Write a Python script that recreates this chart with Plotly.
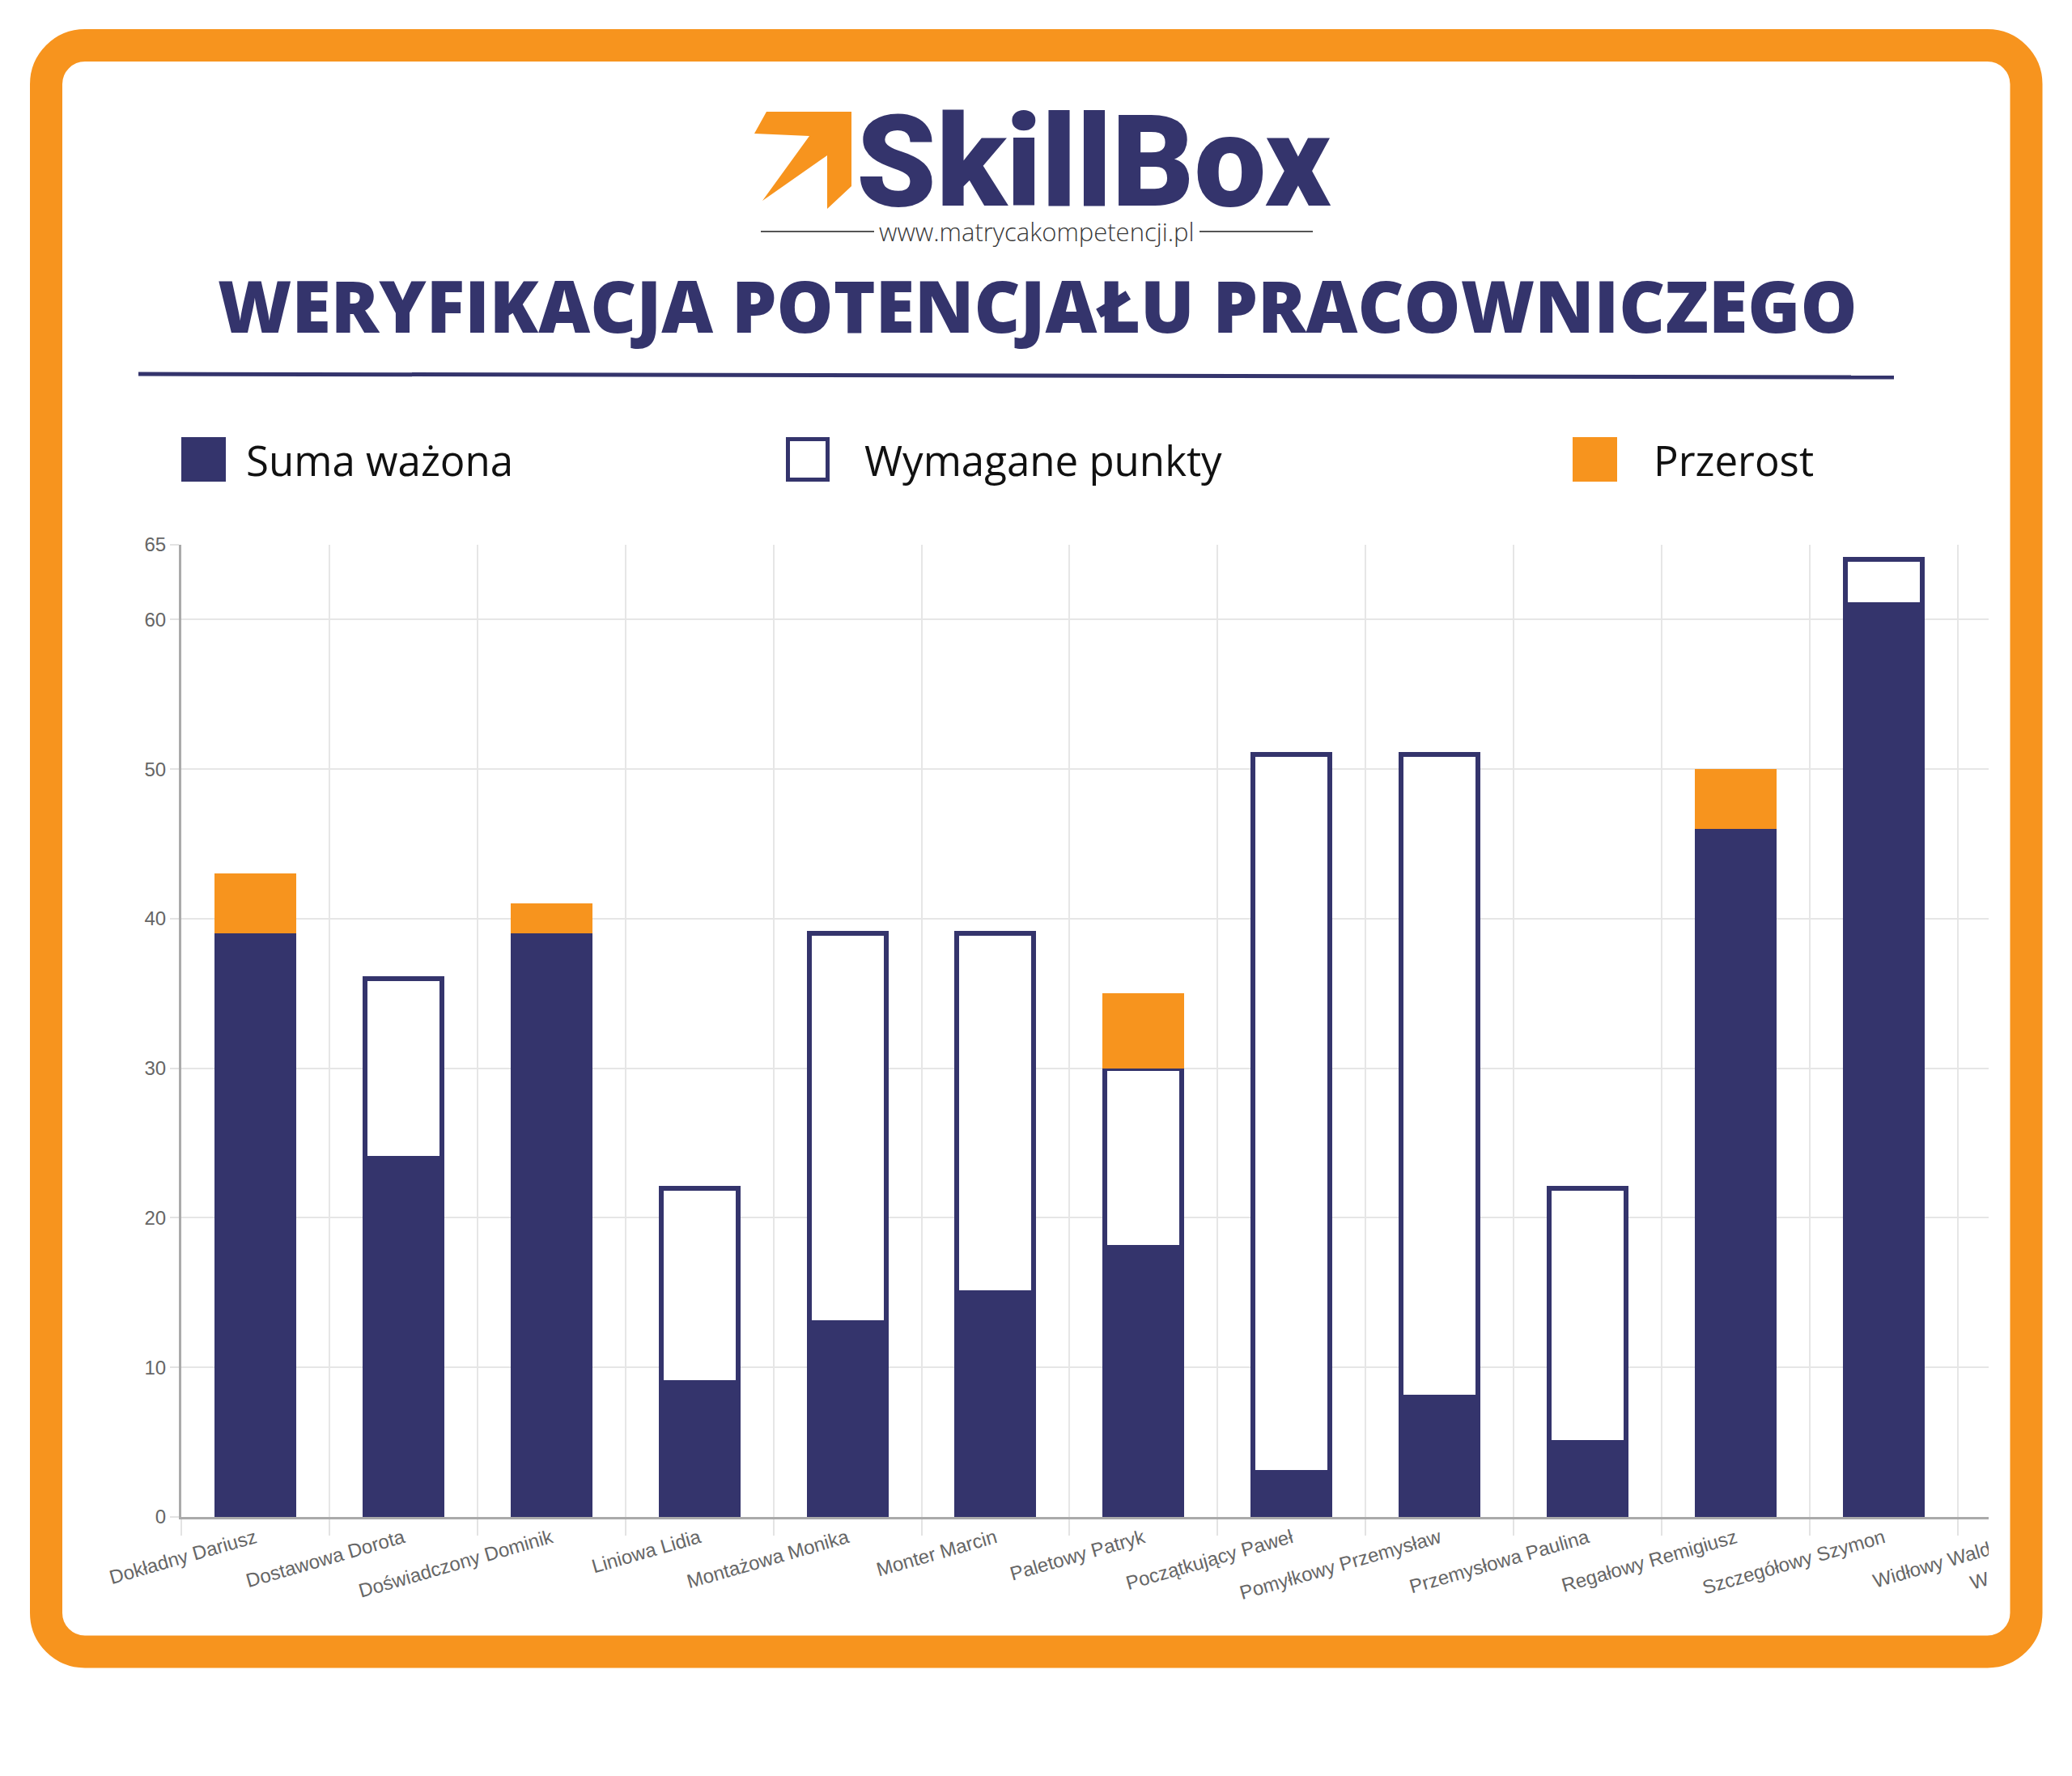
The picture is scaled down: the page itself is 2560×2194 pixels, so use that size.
import plotly.graph_objects as go

# ---------------- data ----------------
categories = [
    "Dokładny Dariusz", "Dostawowa Dorota", "Doświadczony Dominik", "Liniowa Lidia",
    "Montażowa Monika", "Monter Marcin", "Paletowy Patryk", "Początkujący Paweł",
    "Pomyłkowy Przemysław", "Przemysłowa Paulina", "Regałowy Remigiusz",
    "Szczegółowy Szymon", "Widłowy Waldemar",
]
suma_wazona = [39, 24, 39, 9, 13, 15, 18, 3, 8, 5, 46, 61, None]
wymagane_punkty = [None, 12, None, 13, 26, 24, 12, 48, 43, 17, None, 3, None]
przerost = [4, None, 2, None, None, None, 5, None, None, None, 4, None, None]
y_ticks = [0, 10, 20, 30, 40, 50, 60, 65]
legend_labels = ["Suma ważona", "Wymagane punkty", "Przerost"]
title_text = "WERYFIKACJA POTENCJAŁU PRACOWNICZEGO"
logo_text = "SkillBox"
url_text = "www.matrycakompetencji.pl"
hidden_label_start = "W"

# ---------------- style / geometry (page pixels) ----------------
NAVY = "#34346C"
ORANGE = "#F7941E"
OFF = 8                      # default body margin of the html page
W, H = 2544, 2178            # figure size
L, R, T, B = 224, 2552, 673, 1874   # plot area in page pixels
CAT_PX = 182.9


def px(x):
    return (x - L) / (R - L)


def py(y):
    return (B - y) / (B - T)


def rrect_path(x0, y0, x1, y1, r):
    k = 0.5523 * r
    pts = [
        f"M{px(x0 + r)},{py(y0)}",
        f"L{px(x1 - r)},{py(y0)}",
        f"C{px(x1 - r + k)},{py(y0)} {px(x1)},{py(y0 + r - k)} {px(x1)},{py(y0 + r)}",
        f"L{px(x1)},{py(y1 - r)}",
        f"C{px(x1)},{py(y1 - r + k)} {px(x1 - r + k)},{py(y1)} {px(x1 - r)},{py(y1)}",
        f"L{px(x0 + r)},{py(y1)}",
        f"C{px(x0 + r - k)},{py(y1)} {px(x0)},{py(y1 - r + k)} {px(x0)},{py(y1 - r)}",
        f"L{px(x0)},{py(y0 + r)}",
        f"C{px(x0)},{py(y0 + r - k)} {px(x0 + r - k)},{py(y0)} {px(x0 + r)},{py(y0)}",
        "Z",
    ]
    return " ".join(pts)


def poly_path(points):
    s = "M" + " L".join(f"{px(x)},{py(y)}" for x, y in points)
    return s + " Z"


fig = go.Figure()
bar_w = 101 / CAT_PX
fig.add_trace(go.Bar(x=categories, y=suma_wazona, name=legend_labels[0],
                     marker=dict(color=NAVY, line=dict(width=0)), width=bar_w))
fig.add_trace(go.Bar(x=categories, y=wymagane_punkty, name=legend_labels[1],
                     marker=dict(color="white", line=dict(color=NAVY, width=6)),
                     width=95 / CAT_PX))
fig.add_trace(go.Bar(x=categories, y=przerost, name=legend_labels[2],
                     marker=dict(color=ORANGE, line=dict(width=0)), width=bar_w))

x_end = -0.5 + (R - L) / CAT_PX

fig.update_layout(
    template="none",
    width=W, height=H,
    margin=dict(l=L - OFF, r=OFF + W - R, t=T - OFF, b=OFF + H - B, pad=0),
    paper_bgcolor="white", plot_bgcolor="white",
    barmode="stack",
    showlegend=False,
    xaxis=dict(
        type="category", categoryorder="array", categoryarray=categories,
        range=[-0.5, x_end], automargin=False,
        tickson="boundaries", ticks="outside", ticklen=20, tickwidth=2, tickcolor="#e3e3e3",
        showgrid=True, gridcolor="#e6e6e6", gridwidth=2,
        showline=True, linecolor="#aaaaaa", linewidth=3,
        tickangle=-16,
        tickfont=dict(family="Liberation Sans, Arial", size=24, color="#666666"),
        zeroline=False,
    ),
    yaxis=dict(
        range=[0, 65], automargin=False,
        tickmode="array", tickvals=y_ticks,
        ticks="outside", ticklen=11, tickwidth=2, tickcolor="#e3e3e3",
        showgrid=True, gridcolor="#e6e6e6", gridwidth=2,
        showline=True, linecolor="#aaaaaa", linewidth=3,
        zeroline=False,
        tickfont=dict(family="Liberation Sans, Arial", size=24, color="#666666"),
    ),
)

shapes = []
# cover the part of the chart that is cut off on the right
shapes.append(dict(type="rect", xref="paper", yref="paper", layer="above",
                   x0=px(2457), x1=px(2490), y0=py(640), y1=py(2030),
                   fillcolor="white", line=dict(width=0)))
shapes.append(dict(type="rect", xref="paper", yref="paper", layer="above",
                   x0=px(2520), x1=px(2600), y0=py(0), y1=py(2200),
                   fillcolor="white", line=dict(width=0)))
# orange frame
shapes.append(dict(type="path", xref="paper", yref="paper", layer="above",
                   path=rrect_path(57, 56, 2503.5, 2040.5, 48),
                   line=dict(color=ORANGE, width=40), fillcolor="rgba(0,0,0,0)"))
# logo arrow
arrow = [(947, 138), (1052, 138), (1052, 230), (1022, 258), (1022, 192),
         (942, 248), (1000, 168), (932, 165)]
shapes.append(dict(type="path", xref="paper", yref="paper", layer="above",
                   path=poly_path(arrow), fillcolor=ORANGE, line=dict(width=0)))
# lines around url
for x0, x1 in [(940, 1080), (1482, 1622)]:
    shapes.append(dict(type="line", xref="paper", yref="paper", layer="above",
                       x0=px(x0), x1=px(x1), y0=py(286), y1=py(286),
                       line=dict(color="#555555", width=2)))
# title underline
shapes.append(dict(type="line", xref="paper", yref="paper", layer="above",
                   x0=px(171), x1=px(2340), y0=py(462), y1=py(466),
                   line=dict(color=NAVY, width=5)))
# legend markers
shapes.append(dict(type="rect", xref="paper", yref="paper", layer="above",
                   x0=px(224), x1=px(279), y0=py(540), y1=py(595),
                   fillcolor=NAVY, line=dict(width=0)))
shapes.append(dict(type="rect", xref="paper", yref="paper", layer="above",
                   x0=px(973.5), x1=px(1022.5), y0=py(542.5), y1=py(592.5),
                   fillcolor="white", line=dict(color=NAVY, width=5)))
shapes.append(dict(type="rect", xref="paper", yref="paper", layer="above",
                   x0=px(1943), x1=px(1998), y0=py(540), y1=py(595),
                   fillcolor=ORANGE, line=dict(width=0)))
fig.update_layout(shapes=shapes)

LOGO_SIZE = 158
ann = []
ann.append(dict(text=logo_text, x=px(1056), y=py(139 - 0.217 * LOGO_SIZE),
                xref="paper", yref="paper",
                xanchor="left", yanchor="top", valign="top",
                height=int(0.95 * LOGO_SIZE), showarrow=False,
                font=dict(family="Roboto", size=LOGO_SIZE, weight=900, color=NAVY)))
ann.append(dict(text=url_text, x=px(1281), y=py(286), xref="paper", yref="paper",
                xanchor="center", yanchor="middle", showarrow=False,
                font=dict(family="Open Sans", size=31, weight=300, color="#3a3a3a")))
ann.append(dict(text=title_text, x=px(1282), y=py(377), xref="paper", yref="paper",
                xanchor="center", yanchor="middle", showarrow=False,
                font=dict(family="Open Sans", size=88, weight=800, color=NAVY)))
for label, xpos in zip(legend_labels, [302, 1066, 2041]):
    ann.append(dict(text=label, x=px(xpos), y=py(568), xref="paper", yref="paper",
                    xanchor="left", yanchor="middle", showarrow=False,
                    font=dict(family="Open Sans", size=51, color="#111111")))
ann.append(dict(text=hidden_label_start, x=px(2445), y=py(1952), xref="paper", yref="paper",
                xanchor="center", yanchor="middle", showarrow=False, textangle=-16,
                font=dict(family="Liberation Sans, Arial", size=24, color="#666666")))
fig.update_layout(annotations=ann)

fig.write_html("out.html", config={"displayModeBar": False})
